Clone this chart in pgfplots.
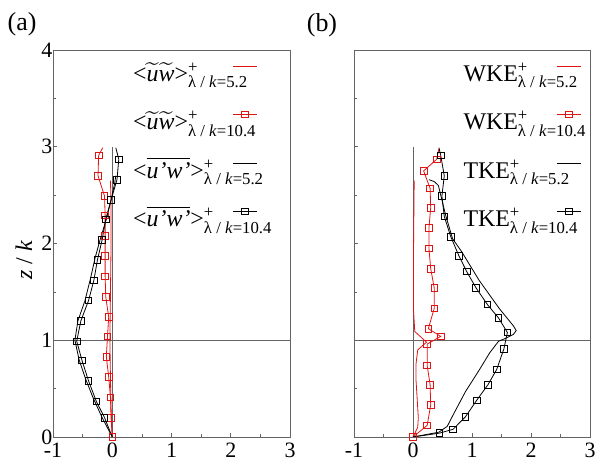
\documentclass[border=0pt]{standalone}
\usepackage{fontspec}
\setmainfont{Liberation Serif}
\usepackage{amsmath}
\usepackage{pgfplots}
\pgfplotsset{compat=1.18}
\definecolor{cr}{RGB}{225,20,20}
\definecolor{fr}{RGB}{100,100,100}
\pgfplotsset{
  panel/.style={
    height=387bp, scale only axis,
    xmin=-1, xmax=3, ymin=0, ymax=4,
    xtick={-1,0,1,2,3}, ytick={0,1,2,3,4},
    minor xtick={-0.5,0.5,1.5,2.5}, minor ytick={0.5,1.5,2.5,3.5},
    tick align=inside, tick pos=left,
    major tick length=4bp, minor tick length=3bp,
    axis line style={fr, line width=0.6bp},
    tick style={fr, line width=0.6bp},
    tick label style={font=\fontsize{22}{26}\selectfont, text=black},
    yticklabel style={inner xsep=0.5bp},
    xticklabel style={inner ysep=6bp},
    /pgf/number format/assume math mode=true,
    legend plot pos=right, legend cell align=left,
    legend style={draw=none, fill=none, inner sep=0pt, outer sep=0pt,
      column sep=0pt, row sep=12.5bp, font=\fontsize{24}{28}\selectfont,
      nodes={inner sep=0pt, text height=26bp, text depth=10bp}},
    every axis plot/.append style={line width=0.8bp},
  },
  mk/.style={mark=square, mark size=3.3bp, mark options={solid, line width=0.8bp}},
  lgimg/.style 2 args={legend image code/.code={%
    \draw[overlay,##1,#2,mark indices={2}] plot coordinates {(#1,7bp) ({#1+12bp},7bp) ({#1+24bp},7bp)};}},
}
\newcommand{\tw}[1]{$\widetilde{\hbox{\textit{#1}}}$}
\begin{document}
\begin{tikzpicture}
\path[use as bounding box] (0,0) rectangle (598bp,472bp);
\begin{axis}[panel, width=237bp, at={(53bp,35bp)}, anchor=south west,
  legend style={at={(0.924,0.987)}, anchor=north east}]
\addplot[fr, line width=0.5bp, forget plot] coordinates {(0,0) (0,3)};
\addplot[fr, line width=0.5bp, forget plot] coordinates {(-1,1) (3,1)};
% red 5.2
\addplot[cr, lgimg={-39bp}{cr}] coordinates {(0,0) (-0.02,0.3) (-0.03,0.6) (-0.04,1.0) (-0.03,1.5) (-0.02,2.0) (-0.02,2.4) (-0.03,2.65)};
\addlegendentry{<\tw{u}\tw{w}>$^{\text{+}}_{\text{λ / \textit{k}=5.2}}$}
% red 10.4
\addplot[cr, forget plot] coordinates {(-0.23,2.91) (-0.16,2.99)};
\addplot[cr, mk, lgimg={-39bp}{cr}] coordinates {(0,0) (-0.02,0.2) (-0.03,0.41) (-0.06,0.62) (-0.1,0.83) (-0.08,1.04) (-0.06,1.24) (-0.11,1.45) (-0.12,1.66) (-0.12,1.87) (-0.12,2.08) (-0.12,2.29) (-0.13,2.49) (-0.24,2.70) (-0.23,2.91)};
\addlegendentry{<\tw{u}\tw{w}>$^{\text{+}}_{\text{λ / \textit{k}=10.4}}$}
% black 5.2
\addplot[black, lgimg={-39bp}{black}] coordinates {(0,0) (-0.17,0.2) (-0.32,0.4) (-0.45,0.6) (-0.56,0.8) (-0.63,1.0) (-0.58,1.2) (-0.46,1.41) (-0.37,1.63) (-0.29,1.85) (-0.2,2.05) (-0.1,2.25) (-0.02,2.45) (0.04,2.62) (0.06,2.7)};
\addlegendentry{<$\overline{\hbox{\textit{u'w'}}}$>$^{\text{+}}_{\text{λ / \textit{k}=5.2}}$}
% black 10.4
\addplot[black, forget plot] coordinates {(0,0) (-0.13,0.2)};
\addplot[black, forget plot] coordinates {(0.11,2.87) (0.06,2.99)};
\addplot[black, mk, lgimg={-39bp}{black}] coordinates {(-0.13,0.2) (-0.27,0.37) (-0.40,0.58) (-0.51,0.79) (-0.60,0.99) (-0.53,1.20) (-0.40,1.41) (-0.31,1.62) (-0.25,1.83) (-0.17,2.04) (-0.11,2.25) (-0.02,2.45) (0.08,2.66) (0.11,2.87)};
\addlegendentry{<$\overline{\hbox{\textit{u'w'}}}$>$^{\text{+}}_{\text{λ / \textit{k}=10.4}}$}
\end{axis}
\begin{axis}[panel, width=236bp, at={(354bp,35bp)}, anchor=south west,
  yticklabels={},
  legend style={at={(0.983,0.987)}, anchor=north east}]
\addplot[fr, line width=0.5bp, forget plot] coordinates {(0,0) (0,3)};
\addplot[fr, line width=0.5bp, forget plot] coordinates {(-1,1) (3,1)};
% WKE 5.2
\addplot[cr, lgimg={-29bp}{cr}] coordinates {(0,0) (0.08,0.1) (0.09,0.2) (0.07,0.4) (0.05,0.6) (0.05,0.75) (0.08,0.9) (0.23,0.98) (0.03,1.09) (0.01,1.3) (0.01,2.0) (0.02,2.65)};
\addlegendentry{WKE$^{\text{+}}_{\text{λ / \textit{k}=5.2}}$}
% WKE 10.4
\addplot[cr, forget plot] coordinates {(0.40,2.87) (0.44,2.98)};
\addplot[cr, mk, lgimg={-29bp}{cr}] coordinates {(0,0) (0.24,0.12) (0.30,0.33) (0.29,0.54) (0.24,0.74) (0.24,0.96) (0.47,1.04) (0.26,1.12) (0.36,1.33) (0.36,1.54) (0.30,1.74) (0.27,1.95) (0.27,2.16) (0.30,2.37) (0.29,2.57) (0.18,2.75) (0.40,2.87)};
\addlegendentry{WKE$^{\text{+}}_{\text{λ / \textit{k}=10.4}}$}
% TKE 5.2
\addplot[black, lgimg={-29bp}{black}] coordinates {(0,0) (0.44,0.05) (0.58,0.11) (0.69,0.24) (0.89,0.47) (1.12,0.69) (1.30,0.87) (1.45,0.99) (1.57,1.02) (1.70,1.06) (1.75,1.10) (1.70,1.15) (1.46,1.33) (1.12,1.62) (0.82,1.92) (0.67,2.05) (0.55,2.3) (0.47,2.5) (0.43,2.6) (0.36,2.64) (0.27,2.66)};
\addlegendentry{TKE$^{\text{+}}_{\text{λ / \textit{k}=5.2}}$}
% TKE 10.4
\addplot[black, forget plot] coordinates {(0,0) (0.45,0.04)};
\addplot[black, forget plot] coordinates {(0.47,2.91) (0.44,2.99)};
\addplot[black, mk, lgimg={-29bp}{black}] coordinates {(0.45,0.04) (0.68,0.08) (0.89,0.21) (1.08,0.38) (1.27,0.54) (1.42,0.70) (1.54,0.91) (1.60,1.08) (1.45,1.23) (1.26,1.37) (1.07,1.54) (0.91,1.71) (0.78,1.87) (0.64,2.07) (0.53,2.28) (0.49,2.49) (0.53,2.70) (0.47,2.91)};
\addlegendentry{TKE$^{\text{+}}_{\text{λ / \textit{k}=10.4}}$}
\end{axis}
\node[font=\fontsize{26}{30}\selectfont] at (22bp,448bp) {(a)};
\node[font=\fontsize{26}{30}\selectfont] at (322bp,447bp) {(b)};
\node[font=\fontsize{24}{28}\selectfont, rotate=90] at (24bp,212bp) {\textit{z} / \textit{k}};
\end{tikzpicture}
\end{document}
